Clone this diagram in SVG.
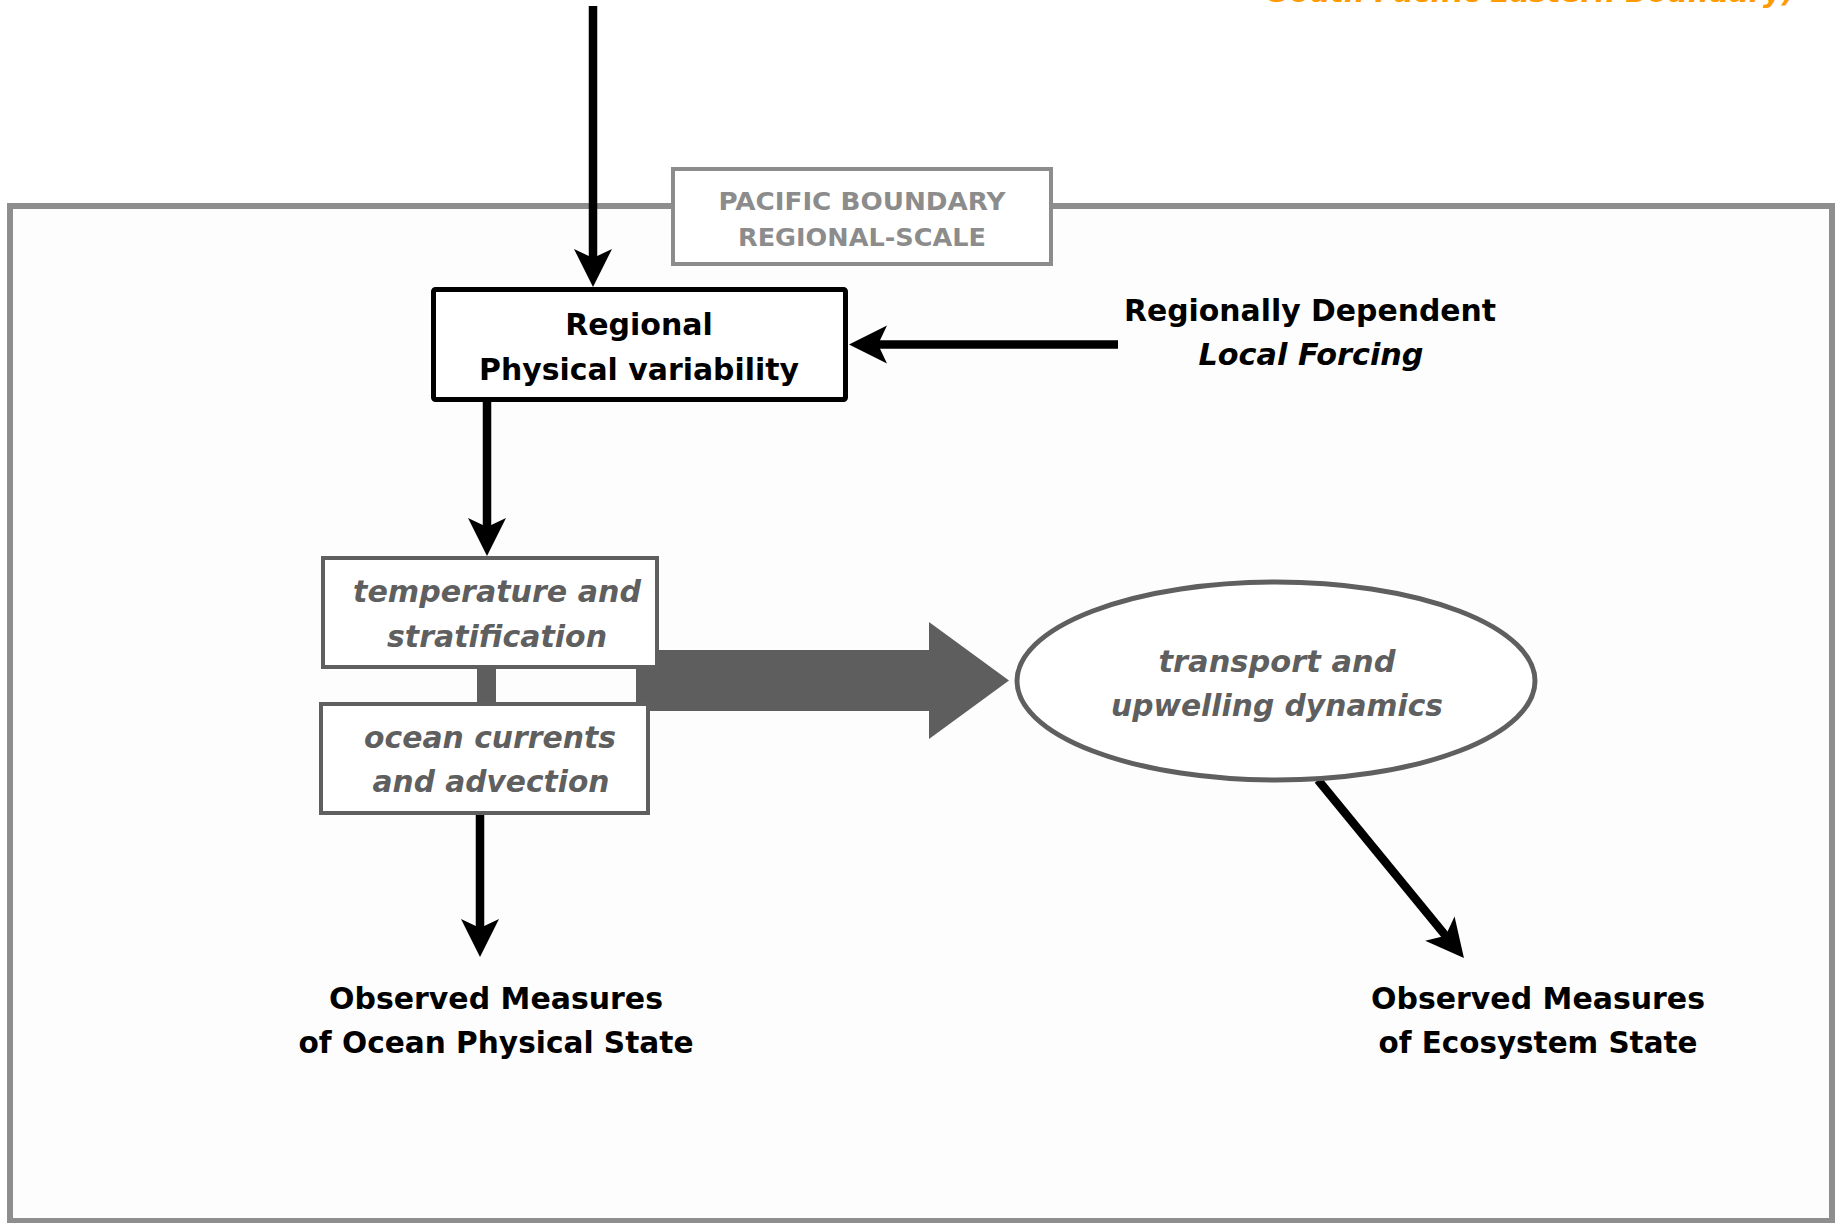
<svg xmlns="http://www.w3.org/2000/svg" width="1837" height="1223" viewBox="0 0 1837 1223">
  <style>
    .t { font-family: "DejaVu Sans", "Liberation Sans", sans-serif; font-weight: bold; text-anchor: middle; }
    .blk { fill: #000; font-size: 30px; }
    .gry { fill: #5f5f5f; font-size: 30px; font-style: italic; }
    .lbl { fill: #8c8c8c; font-size: 25px; }
    .wire { stroke: #000; stroke-width: 8.5; fill: none; marker-end: url(#head); }
    .gbox { fill: #fff; stroke: #5f5f5f; stroke-width: 4; }
  </style>
  <defs>
    <marker id="head" markerUnits="userSpaceOnUse" viewBox="-40 -21 42 42" markerWidth="42" markerHeight="42" refX="-28" refY="0" orient="auto">
      <path d="M0,0 L-38,-19 L-29,0 L-38,19 Z" fill="#000"/>
    </marker>
  </defs>

  <rect width="1837" height="1223" fill="#fff"/>

  <!-- heading running off the top edge -->
  <text class="t" x="1269" y="2" style="text-anchor:start;font-style:italic;font-size:29px;fill:#ff9a00" textLength="526" lengthAdjust="spacingAndGlyphs">South Pacific Eastern Boundary)</text>

  <!-- regional frame -->
  <g id="frame">
    <rect x="10" y="206" width="1822" height="1015" fill="#fdfdfd" stroke="#8e8e8e" stroke-width="6"/>
  </g>
  <g id="scale-label">
    <rect x="673" y="169" width="378" height="95" fill="#fff" stroke="#8c8c8c" stroke-width="4"/>
    <text class="t lbl" x="862" y="210" textLength="287" lengthAdjust="spacingAndGlyphs">PACIFIC BOUNDARY</text>
    <text class="t lbl" x="862" y="246" textLength="248" lengthAdjust="spacingAndGlyphs">REGIONAL-SCALE</text>
  </g>

  <!-- connectors -->
  <g id="connectors">
    <path d="M636,650 H929 V622 L1009,680.5 L929,739 V711 H636 Z" fill="#5e5e5e"/>
    <rect x="477" y="665" width="19" height="41" fill="#5e5e5e"/>
    <line class="wire" x1="593" y1="6" x2="593" y2="259"/>
    <line class="wire" x1="1118" y1="344.5" x2="877" y2="344.5"/>
    <line class="wire" x1="487" y1="400" x2="487" y2="528"/>
    <line class="wire" x1="480" y1="813" x2="480" y2="929"/>
    <line class="wire" x1="1318" y1="780" x2="1446.2" y2="936.4"/>
  </g>

  <g id="regional-variability">
    <rect x="433.5" y="289.5" width="412" height="110" rx="2" fill="#fff" stroke="#000" stroke-width="5"/>
    <text class="t blk" x="639" y="335">Regional</text>
    <text class="t blk" x="639" y="380" textLength="320" lengthAdjust="spacingAndGlyphs">Physical variability</text>
  </g>

  <g id="local-forcing">
    <text class="t blk" x="1310" y="321" textLength="372" lengthAdjust="spacingAndGlyphs">Regionally Dependent</text>
    <text class="t blk" x="1311" y="365" style="font-style:italic" textLength="225" lengthAdjust="spacingAndGlyphs">Local Forcing</text>
  </g>

  <g id="temperature">
    <rect class="gbox" x="323" y="558" width="334" height="109"/>
    <text class="t gry" x="497" y="602" textLength="288" lengthAdjust="spacingAndGlyphs">temperature and</text>
    <text class="t gry" x="497" y="647" textLength="220" lengthAdjust="spacingAndGlyphs">stratification</text>
  </g>

  <g id="currents">
    <rect class="gbox" x="321" y="704" width="327" height="109"/>
    <text class="t gry" x="490" y="748" textLength="252" lengthAdjust="spacingAndGlyphs">ocean currents</text>
    <text class="t gry" x="491" y="792" textLength="237" lengthAdjust="spacingAndGlyphs">and advection</text>
  </g>

  <g id="transport">
    <ellipse cx="1276" cy="681" rx="259" ry="99" fill="#fff" stroke="#5f5f5f" stroke-width="5"/>
    <text class="t gry" x="1277" y="672" textLength="237" lengthAdjust="spacingAndGlyphs">transport and</text>
    <text class="t gry" x="1277" y="716" textLength="332" lengthAdjust="spacingAndGlyphs">upwelling dynamics</text>
  </g>

  <g id="physical-state">
    <text class="t blk" x="496" y="1009" textLength="334" lengthAdjust="spacingAndGlyphs">Observed Measures</text>
    <text class="t blk" x="496" y="1053" textLength="395" lengthAdjust="spacingAndGlyphs">of Ocean Physical State</text>
  </g>

  <g id="ecosystem-state">
    <text class="t blk" x="1538" y="1009" textLength="334" lengthAdjust="spacingAndGlyphs">Observed Measures</text>
    <text class="t blk" x="1538" y="1053" textLength="319" lengthAdjust="spacingAndGlyphs">of Ecosystem State</text>
  </g>
</svg>
